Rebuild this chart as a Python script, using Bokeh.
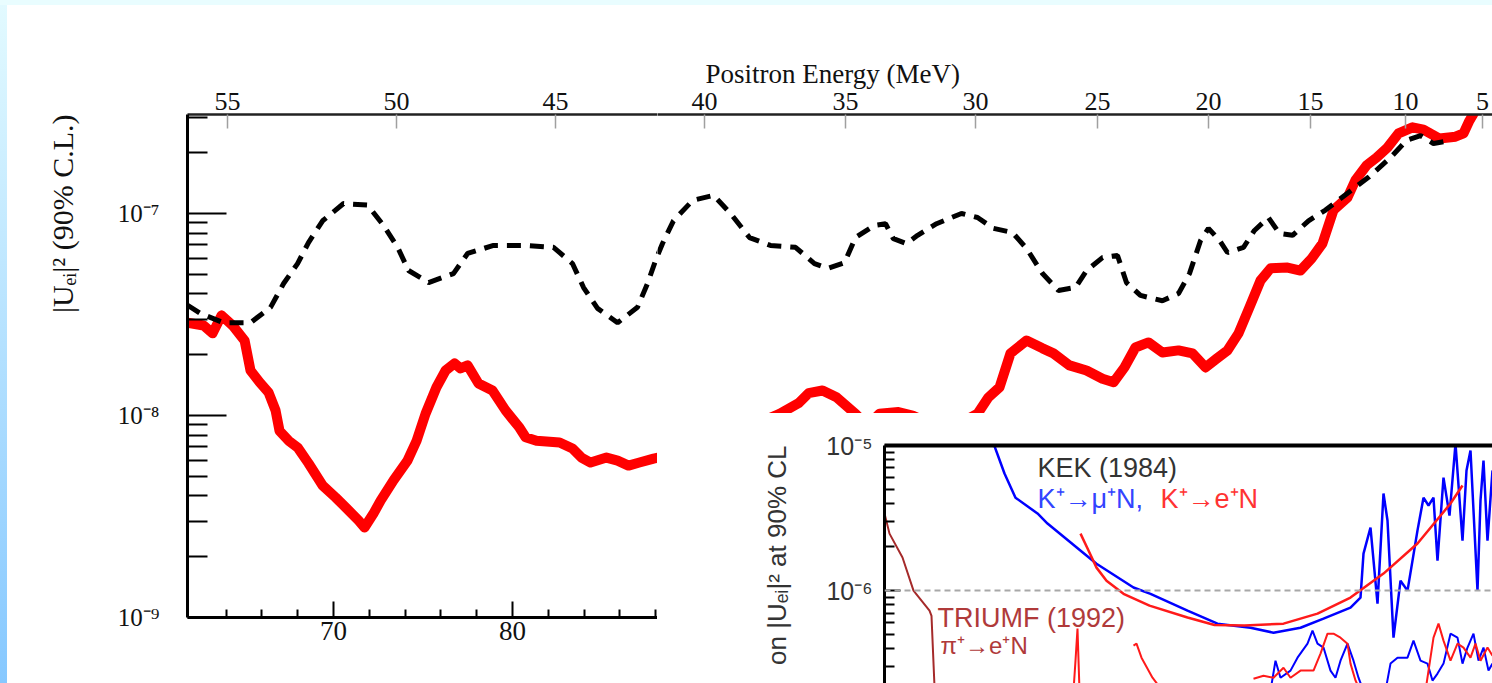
import math
from bokeh.plotting import figure
from bokeh.models import FixedTicker, LinearAxis, Label, Span, Range1d, Div, Title
from bokeh.layouts import row, column
from bokeh.embed import file_html
from bokeh.resources import INLINE

# ---------------- main chart data (mass of heavy neutrino in MeV, |U_ei|^2) -------------
red_mass = [61.85, 62.74, 63.24, 63.74, 64.36, 65.03, 65.36, 65.87, 66.37, 66.76, 66.98, 67.49,
            67.99, 68.60, 69.39, 70.11, 70.73, 71.40, 71.73, 72.23, 72.63, 73.35, 74.13, 74.64,
            75.14, 75.75, 76.26, 76.76, 77.09, 77.49, 78.10, 78.88, 79.61, 80.39, 80.73, 81.34,
            82.63, 83.35, 83.85, 84.36, 85.25, 85.87, 86.48, 87.09, 87.88, 89.94, 92.74, 94.92,
            95.98, 96.54, 97.32, 98.10, 99.16, 99.83, 100.50, 101.56, 102.35, 104.19, 105.98,
            106.59, 107.21, 107.82, 108.72, 109.61, 110.22, 111.12, 112.07, 112.96, 113.58,
            114.19, 114.80, 115.53, 116.31, 117.21, 117.99, 118.72, 119.33, 119.94, 120.56,
            121.17, 121.79, 122.35, 123.30, 124.02, 124.64, 125.25, 125.87, 126.65, 127.09,
            127.71, 128.27, 128.88, 129.50, 130.28, 130.89, 131.79, 132.68, 133.13, 133.46, 133.80]
red_limit = [2.88e-8, 2.79e-8, 2.55e-8, 3.13e-8, 2.79e-8, 2.35e-8, 1.67e-8, 1.46e-8, 1.30e-8,
             1.06e-8, 8.4e-9, 7.5e-9, 6.95e-9, 5.8e-9, 4.5e-9, 3.93e-9, 3.47e-9, 3.02e-9, 2.79e-9,
             3.27e-9, 3.79e-9, 4.77e-9, 5.98e-9, 7.5e-9, 1.02e-8, 1.38e-8, 1.67e-8, 1.81e-8,
             1.71e-8, 1.77e-8, 1.44e-8, 1.33e-8, 1.06e-8, 8.7e-9, 7.8e-9, 7.5e-9, 7.35e-9, 6.87e-9,
             6.19e-9, 5.85e-9, 6.19e-9, 5.98e-9, 5.65e-9, 5.85e-9, 6.12e-9, 6.7e-9, 8.4e-9, 1.02e-8,
             1.15e-8, 1.29e-8, 1.33e-8, 1.23e-8, 1.02e-8, 8.9e-9, 1.02e-8, 1.04e-8, 1.0e-8, 8.4e-9,
             1.02e-8, 1.23e-8, 1.38e-8, 2.03e-8, 2.35e-8, 2.15e-8, 2.03e-8, 1.77e-8, 1.67e-8,
             1.52e-8, 1.46e-8, 1.73e-8, 2.17e-8, 2.30e-8, 2.05e-8, 2.10e-8, 2.03e-8, 1.73e-8,
             1.91e-8, 2.10e-8, 2.55e-8, 3.43e-8, 4.66e-8, 5.35e-8, 5.4e-8, 5.22e-8, 5.98e-8, 7.1e-8,
             1.04e-7, 1.20e-7, 1.46e-7, 1.73e-7, 1.89e-7, 2.12e-7, 2.49e-7, 2.67e-7, 2.6e-7,
             2.35e-7, 2.40e-7, 2.49e-7, 2.88e-7, 3.24e-7]

dash_mass = [61.85, 62.57, 63.85, 65.36, 66.48, 67.21, 67.99, 68.60, 69.39, 70.56, 71.90, 72.79,
             73.58, 74.19, 75.31, 76.70, 77.49, 78.94, 80.61, 82.29, 83.35, 83.97, 84.75, 85.87,
             86.98, 87.54, 87.99, 88.38, 88.99, 90.06, 91.23, 92.18, 93.24, 94.41, 95.81, 96.87,
             97.60, 98.55, 99.16, 100.22, 100.84, 101.28, 102.01, 102.63, 103.69, 105.08, 105.98,
             106.87, 107.93, 108.72, 109.61, 110.50, 111.45, 112.07, 112.96, 113.80, 114.30,
             115.08, 116.31, 117.21, 117.82, 118.44, 118.88, 119.50, 119.94, 120.84, 121.45,
             122.23, 122.85, 123.58, 124.47, 125.42, 126.65, 127.82, 129.05, 129.94, 130.73,
             131.45, 132.40]
dash_limit = [3.51e-8, 3.20e-8, 2.88e-8, 2.88e-8, 3.43e-8, 4.5e-8, 5.65e-8, 7.18e-8, 9.2e-8,
              1.12e-7, 1.10e-7, 8.73e-8, 6.8e-8, 5.22e-8, 4.55e-8, 5.04e-8, 6.34e-8, 6.95e-8,
              6.95e-8, 6.8e-8, 5.65e-8, 4.3e-8, 3.39e-8, 2.88e-8, 3.43e-8, 4.5e-8, 5.85e-8, 7.1e-8,
              9.2e-8, 1.16e-7, 1.23e-7, 1.0e-7, 7.6e-8, 6.95e-8, 6.8e-8, 5.65e-8, 5.35e-8, 5.71e-8,
              7.6e-8, 8.73e-8, 8.9e-8, 7.5e-8, 7.1e-8, 7.8e-8, 8.9e-8, 1.0e-7, 9.55e-8, 8.44e-8,
              8.05e-8, 6.71e-8, 5.04e-8, 4.16e-8, 4.3e-8, 5.22e-8, 6.05e-8, 6.2e-8, 4.55e-8,
              3.93e-8, 3.7e-8, 4.02e-8, 5.04e-8, 7.35e-8, 8.44e-8, 7.35e-8, 6.41e-8, 6.8e-8,
              8.24e-8, 9.55e-8, 7.97e-8, 7.8e-8, 9.2e-8, 1.04e-7, 1.26e-7, 1.51e-7, 1.89e-7,
              2.3e-7, 2.43e-7, 2.22e-7, 2.3e-7]

# top axis: positron energy labels and the mass where each sits
top_energy = [55, 50, 45, 40, 35, 30, 25, 20, 15, 10, 5]
top_mass = [64.08, 73.52, 82.40, 90.73, 98.60, 105.87, 112.68, 118.88, 124.58, 129.89, 134.19]
bottom_major = [70, 80]
bottom_minor = [64, 66, 68, 72, 74, 76, 78, 82, 84, 86, 88]
y_major = [1e-9, 1e-8, 1e-7]
y_major_labels = ["10\u207b\u2079", "10\u207b\u2078", "10\u207b\u2077"]
y_minor = [2e-9, 3e-9, 4e-9, 5e-9, 6e-9, 7e-9, 8e-9, 9e-9,
           2e-8, 3e-8, 4e-8, 5e-8, 6e-8, 7e-8, 8e-8, 9e-8, 2e-7, 3e-7]

# ---------------- inset data -------------
kek_mu_mass = [54, 60, 65.5, 76.5, 81.5, 106, 124.5, 133, 151.5, 166.5, 183, 194.5, 208, 219.5,
               233, 238, 239.5, 243, 246.5, 249.5, 251.5, 254.5, 258, 261.5, 264, 266.5, 269.5,
               272, 274.5, 276.5, 279.5, 282.5, 285.5, 289, 291, 293, 296.5, 298, 299.5, 301.5, 304]
kek_mu_limit = [1.08e-5, 6.41e-6, 4.37e-6, 3.4e-6, 2.9e-6, 1.53e-6, 1.05e-6, 9.5e-7, 7.28e-7,
                5.92e-7, 5.55e-7, 5.13e-7, 5.55e-7, 6.41e-7, 7.64e-7, 8.95e-7, 1.8e-6, 2.72e-6,
                8.13e-7, 4.67e-6, 3.04e-6, 4.74e-7, 1.17e-6, 1.0e-6, 1.61e-6, 2.6e-6, 4.37e-6,
                3.86e-6, 4.37e-6, 1.61e-6, 6.01e-6, 3.29e-6, 1.03e-5, 2.21e-6, 6.73e-6, 9.24e-6,
                1.0e-6, 4.18e-6, 7.88e-6, 2.21e-6, 6.73e-6]
kek_e_mass = [98, 102, 106, 111, 119.5, 132.5, 151.5, 165, 180, 199.5, 216.5, 233, 249.5, 266.5,
              283, 289]
kek_e_limit = [2.47e-6, 1.89e-6, 1.44e-6, 1.17e-6, 9.5e-7, 7.88e-7, 6.52e-7, 5.8e-7, 5.75e-7,
               5.92e-7, 6.94e-7, 8.95e-7, 1.31e-6, 2.11e-6, 3.98e-6, 5.3e-6]
triumf_mass = [0, 2.5, 9, 14.5, 22.5, 23.5, 25.5]
triumf_limit = [3.4e-6, 2.47e-6, 1.69e-6, 1.0e-6, 7.28e-7, 6.7e-7, 1.5e-7]
low_red_mass = [[94.5, 95.5, 96.5, 97.5],
                [124.5, 126, 128.5, 134, 139],
                [184.5, 189.5, 194.5, 199.5, 203, 208, 214.5, 218, 221.5, 224.5, 228, 231.5, 233,
                 235.5, 238],
                [270.5, 274.5, 277, 279.5, 283, 286.5, 289.5, 293, 295.5, 298, 301.5, 304]]
low_red_limit = [[2.04e-7, 3.29e-7, 5.47e-7, 2.04e-7],
                 [4.18e-7, 4.31e-7, 3.45e-7, 2.51e-7, 2.04e-7],
                 [2.47e-7, 2.59e-7, 2.51e-7, 2.94e-7, 2.51e-7, 2.81e-7, 2.81e-7, 3.68e-7, 5.05e-7,
                  5.05e-7, 4.74e-7, 4.31e-7, 3.14e-7, 2.40e-7, 2.04e-7],
                 [2.04e-7, 4.74e-7, 5.92e-7, 4.52e-7, 3.29e-7, 4.31e-7, 4.05e-7, 3.45e-7, 4.31e-7,
                  3.29e-7, 4.05e-7, 3.56e-7]]
low_blue_mass = [[193, 195.5, 198, 203, 206.5, 211.5, 214, 216.5, 219.5, 223, 225.5, 228, 231.5,
                  234.5, 237, 239.5],
                 [250.5, 253, 256.5, 261.5, 264.5, 268, 271.5, 274, 276.5, 279.5, 283, 286.5, 289,
                  291.5, 294.5, 297, 299.5, 302, 304]]
low_blue_limit = [[2.04e-7, 3.29e-7, 2.51e-7, 2.81e-7, 3.45e-7, 4.31e-7, 5.3e-7, 4.31e-7, 4.05e-7,
                   2.81e-7, 2.51e-7, 3.29e-7, 4.31e-7, 3.29e-7, 2.51e-7, 2.04e-7],
                  [2.04e-7, 3.14e-7, 3.45e-7, 3.45e-7, 4.52e-7, 3.29e-7, 3.14e-7, 2.4e-7, 2.68e-7,
                   3.14e-7, 5.05e-7, 4.74e-7, 3.14e-7, 4.05e-7, 5.05e-7, 3.29e-7, 4.05e-7, 2.81e-7,
                   3.14e-7]]
inset_major = [1e-6, 1e-5]
inset_major_labels = ["10\u207b\u2076", "10\u207b\u2075"]
inset_minor = [3e-7, 4e-7, 5e-7, 6e-7, 7e-7, 8e-7, 9e-7,
               2e-6, 3e-6, 4e-6, 5e-6, 6e-6, 7e-6, 8e-6, 9e-6]

# ---------------- ranges -------------
M_LEFT, M_SPLIT, M_RIGHT = 61.84, 88.10, 134.75
U_BOTTOM, U_SPLIT, U_TOP = 1e-9, 1.023e-8, 3.09e-7
SERIF = "Liberation Serif"
SANS = "Liberation Sans"


def style_top_axis(ax):
    ax.ticker = FixedTicker(ticks=top_mass, minor_ticks=[])
    ax.major_label_overrides = {m: str(e) for m, e in zip(top_mass, top_energy)}
    ax.axis_line_width = 2.5
    ax.axis_line_color = "#222222"
    ax.major_tick_in = 14
    ax.major_tick_out = 0
    ax.major_tick_line_color = "#a0a0a0"
    ax.major_tick_line_width = 1.5
    ax.minor_tick_line_color = None
    ax.major_label_standoff = 5
    ax.major_label_text_font = SERIF
    ax.major_label_text_font_size = "26px"
    ax.major_label_text_color = "#111111"


def base(fig):
    fig.grid.visible = False
    fig.outline_line_color = None
    fig.background_fill_color = "white"
    fig.border_fill_color = "white"


# ---------- left part of main chart ----------
pL = figure(width=650, height=678, x_range=Range1d(M_LEFT, M_SPLIT),
            y_range=Range1d(U_BOTTOM, U_TOP), y_axis_type="log",
            output_backend="svg", toolbar_location=None,
            min_border_left=180, min_border_right=0, min_border_top=109, min_border_bottom=66)
base(pL)
pL.line(red_mass, red_limit, line_color="#ff0000", line_width=10, line_join="round")
pL.line(dash_mass, dash_limit, line_color="black", line_width=5, line_dash="14 9")

xa = pL.xaxis[0]
xa.ticker = FixedTicker(ticks=bottom_major, minor_ticks=bottom_minor)
xa.axis_line_width = 3
xa.major_tick_in = 16
xa.major_tick_out = 0
xa.minor_tick_in = 8
xa.minor_tick_out = 0
xa.major_tick_line_width = 2
xa.minor_tick_line_width = 2
xa.major_label_standoff = 4
xa.major_label_text_font = SERIF
xa.major_label_text_font_size = "27px"
xa.major_label_text_color = "#111111"

ya = pL.yaxis[0]
ya.ticker = FixedTicker(ticks=y_major, minor_ticks=y_minor)
ya.major_label_overrides = {v: t for v, t in zip(y_major, y_major_labels)}
ya.axis_line_width = 3
ya.major_tick_in = 39
ya.major_tick_out = 0
ya.minor_tick_in = 20
ya.minor_tick_out = 0
ya.major_tick_line_width = 2
ya.minor_tick_line_width = 2
ya.major_label_standoff = 28
ya.major_label_text_font = SERIF
ya.major_label_text_font_size = "25px"
ya.major_label_text_color = "#111111"

topL = LinearAxis()
style_top_axis(topL)
pL.add_layout(topL, "above")

pL.add_layout(Title(text="|U\u2091\u1d62|\u00b2 (90% C.L.)", align="right", standoff=71,
                    text_font=SERIF, text_font_style="normal", text_font_size="30px",
                    text_color="#111111"), "left")

# ---------- upper-right part of main chart ----------
pTR = figure(width=835, height=408, x_range=Range1d(M_SPLIT, M_RIGHT),
             y_range=Range1d(U_SPLIT, U_TOP), y_axis_type="log",
             x_axis_location="above", y_axis_location=None,
             output_backend="svg", toolbar_location=None,
             min_border_left=0, min_border_right=0, min_border_top=109, min_border_bottom=0)
base(pTR)
pTR.line(red_mass, red_limit, line_color="#ff0000", line_width=10, line_join="round")
pTR.line(dash_mass, dash_limit, line_color="black", line_width=5, line_dash="14 9")
style_top_axis(pTR.xaxis[0])
pTR.title.text = "Positron Energy (MeV)"
pTR.title.align = "left"
pTR.title.offset = 48
pTR.title.standoff = 2
pTR.title.text_font = SERIF
pTR.title.text_font_style = "normal"
pTR.title.text_font_size = "27px"
pTR.title.text_color = "#111111"

# ---------- inset ----------
pI = figure(width=834, height=270, x_range=Range1d(0, 304),
            y_range=Range1d(2.29e-7, 1e-5), y_axis_type="log",
            x_axis_location=None, output_backend="svg", toolbar_location=None,
            min_border_left=226, min_border_right=0, min_border_top=32, min_border_bottom=0)
base(pI)
pI.add_layout(Span(location=1e-6, dimension="width", line_color="#a8a8a8",
                   line_width=2, line_dash="6 4"))
pI.line(triumf_mass, triumf_limit, line_color="#a52a2a", line_width=2)
pI.line(kek_mu_mass, kek_mu_limit, line_color="#0000ff", line_width=2.5)
pI.line(kek_e_mass, kek_e_limit, line_color="#ff1a1a", line_width=2.5)
pI.multi_line(low_blue_mass, low_blue_limit, line_color="#0000ff", line_width=2)
pI.multi_line(low_red_mass, low_red_limit, line_color="#ff1a1a", line_width=2)

ia = pI.yaxis[0]
ia.ticker = FixedTicker(ticks=inset_major, minor_ticks=inset_minor)
ia.major_label_overrides = {v: t for v, t in zip(inset_major, inset_major_labels)}
ia.axis_line_width = 3
ia.major_tick_in = 16
ia.major_tick_out = 0
ia.minor_tick_in = 10
ia.minor_tick_out = 0
ia.major_tick_line_width = 2
ia.minor_tick_line_width = 2
ia.major_label_standoff = 12
ia.major_label_text_font = SANS
ia.major_label_text_font_size = "25px"
ia.major_label_text_color = "#333333"

itop = LinearAxis(ticker=FixedTicker(ticks=[], minor_ticks=[]))
itop.axis_line_width = 4
itop.major_tick_line_color = None
itop.minor_tick_line_color = None
itop.major_label_text_font_size = "0px"
pI.add_layout(itop, "above")

pI.add_layout(Label(x=76.5, y=7.05e-6, text="KEK (1984)", text_baseline="middle",
                    text_font=SANS, text_font_size="27px", text_color="#333333"))
pI.add_layout(Label(x=76.5, y=4.31e-6, text="K\u207a\u2192\u03bc\u207aN,", text_baseline="middle",
                    text_font=SANS, text_font_size="27px", text_color="#3344ff"))
pI.add_layout(Label(x=138, y=4.31e-6, text="K\u207a\u2192e\u207aN", text_baseline="middle",
                    text_font=SANS, text_font_size="27px", text_color="#ff3333"))
pI.add_layout(Label(x=26.5, y=6.52e-7, text="TRIUMF (1992)", text_baseline="middle",
                    text_font=SANS, text_font_size="27px", text_color="#b03a3a"))
pI.add_layout(Label(x=28, y=4.18e-7, text="\u03c0\u207a\u2192e\u207aN", text_baseline="middle",
                    text_font=SANS, text_font_size="24px", text_color="#b03a3a"))
pI.add_layout(Title(text="on |U\u2091\u1d62|\u00b2 at 90% CL", align="right", standoff=64,
                    text_font=SANS, text_font_style="normal", text_font_size="26px",
                    text_color="#333333"), "left")

# ---------- slide decoration and layout ----------
top_strip = Div(text="", width=1492, height=5, margin=0,
                styles={"background": "#e9fdff"})
left_strip = Div(text="", width=7, height=678, margin=0,
                 styles={"background": "linear-gradient(to bottom, #e2faff, #86c8ff)"})
gap = Div(text="", width=1, height=270, margin=0, styles={"background": "white"})

layout = column(top_strip,
                row(left_strip, pL, column(pTR, row(gap, pI, spacing=0), spacing=0), spacing=0),
                spacing=0)

open("out.html", "w").write(file_html(layout, INLINE))
